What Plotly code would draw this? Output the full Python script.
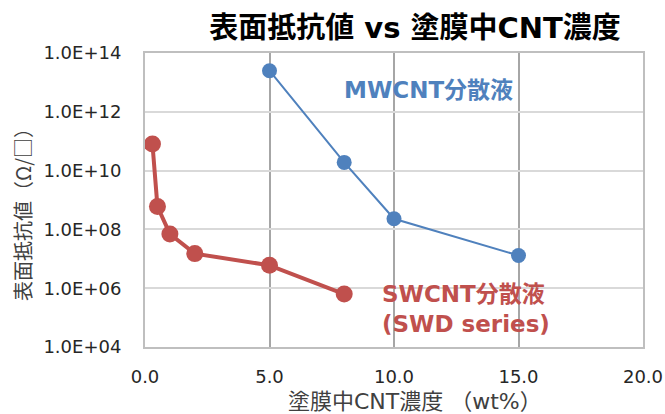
import plotly.graph_objects as go

# Data
mw_x = [5, 8, 10, 15]
mw_y = [2.5e13, 1.9e10, 2.3e8, 1.3e7]
sw_x = [0.3, 0.5, 1.0, 2.0, 5.0, 8.0]
sw_y = [8e10, 6e8, 7e7, 1.5e7, 6e6, 6.3e5]

x_ticks = [0, 5, 10, 15, 20]
x_ticktext = ["0.0", "5.0", "10.0", "15.0", "20.0"]
y_ticks = [1e4, 1e6, 1e8, 1e10, 1e12, 1e14]
y_ticktext = ["1.0E+04", "1.0E+06", "1.0E+08", "1.0E+10", "1.0E+12", "1.0E+14"]

title_text = "表面抵抗値 vs 塗膜中CNT濃度"
x_title = "塗膜中CNT濃度 （wt%）"
y_title = "表面抵抗値（Ω/□）"
mw_label = "MWCNT分散液"
sw_label = "SWCNT分散液<br>(SWD series)"

BLUE = "#4F81BD"
RED = "#C0504D"
FONT = "DejaVu Sans, Noto Sans CJK JP, sans-serif"
CJK = "Noto Sans CJK JP, DejaVu Sans, sans-serif"

W, H = 665, 414
L, R, T, B = 145, 22, 53, 67
PW, PH = W - L - R, H - T - B

fig = go.Figure()
fig.add_trace(go.Scatter(x=mw_x, y=mw_y, mode="lines+markers",
                         line=dict(color=BLUE, width=2),
                         marker=dict(color=BLUE, size=15), showlegend=False))
fig.add_trace(go.Scatter(x=sw_x, y=sw_y, mode="lines+markers",
                         line=dict(color=RED, width=4),
                         marker=dict(color=RED, size=17), showlegend=False))

fig.update_layout(
    width=W, height=H,
    margin=dict(l=L, r=R, t=T, b=B, autoexpand=False),
    paper_bgcolor="white", plot_bgcolor="white",
    font=dict(family=FONT, color="#262626", size=18),
    title=dict(text="<b>" + title_text + "</b>", x=415 / W, xanchor="center",
               y=1 - 28 / H, yanchor="middle",
               font=dict(family=FONT, size=29, color="#000000")),
    xaxis=dict(range=[0, 20], tickvals=x_ticks, ticktext=x_ticktext,
               showgrid=True, gridcolor="#A6A6A6", gridwidth=1.5,
               showline=True, linecolor="#BFBFBF", linewidth=2, mirror=True,
               zeroline=False, ticks="", ticklabelstandoff=12,
               ticklabeloverflow="allow", automargin=False,
               tickfont=dict(size=18, color="#262626")),
    yaxis=dict(type="log", range=[4, 14], tickvals=y_ticks, ticktext=y_ticktext,
               showgrid=True, gridcolor="#D9D9D9", gridwidth=1.5,
               showline=True, linecolor="#BFBFBF", linewidth=2, mirror=True,
               zeroline=False, ticks="", ticklabelstandoff=18,
               ticklabeloverflow="allow", automargin=False,
               tickfont=dict(size=18, color="#262626")),
)

# axis titles (offset from plot centre as in the reference)
fig.add_annotation(x=10.84, xref="x", y=(347 - 401) / PH, yref="paper",
                   text=x_title, showarrow=False, xanchor="center", yanchor="middle",
                   font=dict(size=22, color="#404040", family=FONT))
fig.add_annotation(x=(22 - L) / PW, xref="paper", y=(347 - 210) / PH, yref="paper",
                   text=y_title, textangle=-90, showarrow=False,
                   xanchor="center", yanchor="middle",
                   font=dict(size=20, color="#404040", family=CJK))

fig.add_annotation(x=11.37, y=12.74, xref="x", yref="y", text="<b>" + mw_label + "</b>",
                   showarrow=False, xanchor="center", yanchor="middle",
                   font=dict(size=23, color=BLUE, family=FONT))
fig.add_annotation(x=9.44, y=5.29, xref="x", yref="y", text="<b>" + sw_label + "</b>",
                   showarrow=False, xanchor="left", yanchor="middle", align="left",
                   font=dict(size=23, color=RED, family=FONT))

# remove the browser's default 8px body margin so the figure fills the window
fig.write_html("out.html", config={"displayModeBar": False},
               post_script="document.body.style.margin='0';document.body.style.overflow='hidden';")
